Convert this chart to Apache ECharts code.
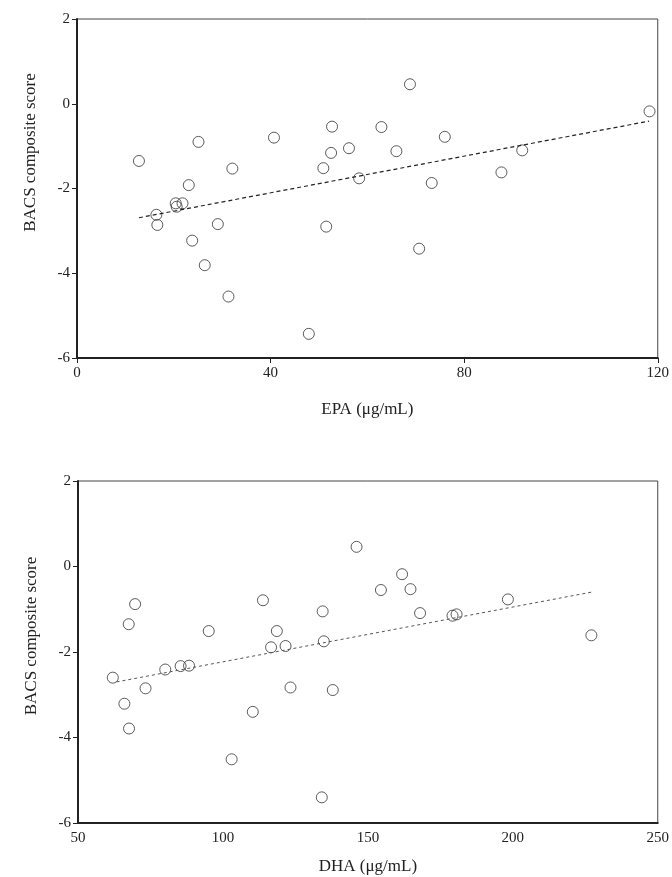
<!DOCTYPE html>
<html>
<head>
<meta charset="utf-8">
<script src="https://cdn.jsdelivr.net/npm/echarts@6/dist/echarts.min.js"></script>
<style>
  html, body { margin: 0; padding: 0; background: #fff; }
  #chart { width: 672px; height: 877px; }
</style>
</head>
<body>
<div id="chart"></div>
<script>
  // EPA panel (top)
  var epaX = [12.8, 25.1, 40.7, 52.7, 56.2, 52.5, 50.9, 58.3, 32.1, 23.1,
              20.4, 21.8, 20.6, 16.4, 16.6, 29.1, 51.5, 23.8, 26.4, 31.3,
              47.9, 68.8, 62.9, 76.0, 66.0, 92.0, 87.7, 73.3, 70.7, 118.3];
  var epaScore = [-1.35, -0.90, -0.80, -0.54, -1.05, -1.16, -1.52, -1.76, -1.53, -1.92,
                  -2.35, -2.35, -2.43, -2.62, -2.86, -2.84, -2.90, -3.23, -3.81, -4.55,
                  -5.43, 0.46, -0.55, -0.78, -1.12, -1.10, -1.62, -1.87, -3.42, -0.18];
  var epaTrendX = [12.8, 118.2];
  var epaTrendY = [-2.69, -0.41];

  // DHA panel (bottom)
  var dhaX = [146.1, 69.7, 67.5, 113.8, 134.4, 95.1, 118.6, 116.6, 121.6, 134.8,
              62.0, 80.1, 85.4, 88.3, 73.3, 123.3, 137.9, 66.0, 110.3, 67.6,
              103.0, 134.1, 161.8, 154.5, 164.7, 168.0, 179.2, 180.6, 198.3, 227.1];
  var dhaScore = [0.46, -0.88, -1.35, -0.79, -1.05, -1.51, -1.51, -1.89, -1.86, -1.75,
                  -2.60, -2.41, -2.33, -2.32, -2.85, -2.83, -2.89, -3.21, -3.40, -3.79,
                  -4.51, -5.40, -0.18, -0.55, -0.53, -1.09, -1.15, -1.12, -0.77, -1.61];
  var dhaTrendX = [63.3, 227.1];
  var dhaTrendY = [-2.70, -0.60];

  var yTitle = 'BACS composite score';

  function zip(a, b) {
    return a.map(function (v, i) { return [v, b[i]]; });
  }

  var font = 'Liberation Serif';
  var ink = '#222';

  function xAxisOf(idx, min, max, interval, title, gap, ticks) {
    return {
      type: 'value', gridIndex: idx, min: min, max: max, interval: interval,
      name: title, nameLocation: 'middle', nameGap: gap,
      nameTextStyle: { fontFamily: font, fontSize: 17, color: ink },
      axisLine: { onZero: false, lineStyle: { color: ink, width: 2 } },
      axisTick: { show: ticks, inside: false, length: 5, lineStyle: { color: ink } },
      axisLabel: { fontFamily: font, fontSize: 15, color: ink, margin: 8 },
      splitLine: { show: false }
    };
  }

  function yAxisOf(idx, shiftUp) {
    return {
      type: 'value', gridIndex: idx, min: -6, max: 2, interval: 2,
      name: yTitle, nameLocation: 'middle', nameGap: 38, nameRotate: 90,
      nameTextStyle: { fontFamily: font, fontSize: 17, color: ink, padding: [0, 0, 0, shiftUp * 2] },
      axisLine: { onZero: false, lineStyle: { color: ink, width: 2 } },
      axisTick: { show: true, inside: false, length: 5, lineStyle: { color: ink } },
      axisLabel: { fontFamily: font, fontSize: 15, color: ink, margin: 7 },
      splitLine: { show: false }
    };
  }

  var chart = echarts.init(document.getElementById('chart'), null, { renderer: 'canvas' });
  chart.setOption({
    animation: false,
    backgroundColor: '#fff',
    grid: [
      { left: 77, top: 19, width: 581, height: 339, show: true, borderColor: '#444', borderWidth: 1 },
      { left: 78, top: 481, width: 580, height: 342, show: true, borderColor: '#444', borderWidth: 1 }
    ],
    xAxis: [
      xAxisOf(0, 0, 120, 40, 'EPA (\u03bcg/mL)', 43, true),
      xAxisOf(1, 50, 250, 50, 'DHA (\u03bcg/mL)', 35, false)
    ],
    yAxis: [yAxisOf(0, 36), yAxisOf(1, 16)],
    series: [
      {
        type: 'scatter', xAxisIndex: 0, yAxisIndex: 0,
        data: zip(epaX, epaScore), symbol: 'circle', symbolSize: 11,
        itemStyle: { color: 'rgba(255,255,255,0)', borderColor: '#333', borderWidth: 1 }
      },
      {
        type: 'line', xAxisIndex: 0, yAxisIndex: 0,
        data: zip(epaTrendX, epaTrendY), symbol: 'none',
        lineStyle: { color: '#222', width: 1.2, type: [4, 3] }
      },
      {
        type: 'scatter', xAxisIndex: 1, yAxisIndex: 1,
        data: zip(dhaX, dhaScore), symbol: 'circle', symbolSize: 11,
        itemStyle: { color: 'rgba(255,255,255,0)', borderColor: '#333', borderWidth: 1 }
      },
      {
        type: 'line', xAxisIndex: 1, yAxisIndex: 1,
        data: zip(dhaTrendX, dhaTrendY), symbol: 'none',
        lineStyle: { color: '#555', width: 1, type: [3, 3] }
      }
    ]
  });
</script>
</body>
</html>
